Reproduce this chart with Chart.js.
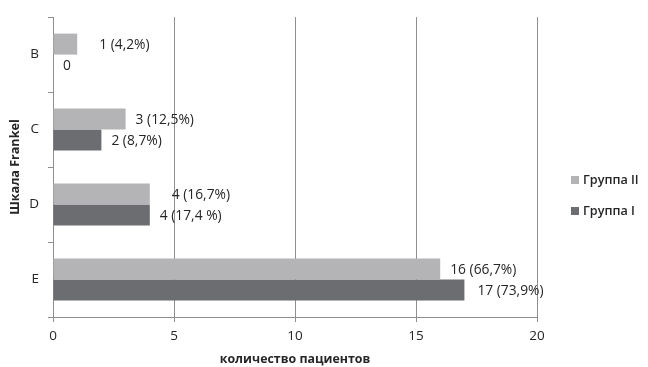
<!DOCTYPE html>
<html>
<head>
<meta charset="utf-8">
<script src="https://cdn.jsdelivr.net/npm/chart.js@4/dist/chart.umd.min.js"></script>
<style>
  html, body { margin: 0; padding: 0; background: #fff; }
  #wrap { width: 648px; height: 367px; }
</style>
</head>
<body>
<div id="wrap"><canvas id="c" width="648" height="367"></canvas></div>
<script>
// Frankel grades
const categories = ['B', 'C', 'D', 'E'];
// Patient counts per grade
const groupII = [1, 3, 4, 16];
const groupI = [0, 2, 4, 17];
// Share of each group, as printed next to the bars
const groupIIPct = ['4,2%', '12,5%', '16,7%', '66,7%'];
const groupIPct = ['', '8,7%', '17,4 %', '73,9%'];
// Axis ticks
const xTicks = [0, 5, 10, 15, 20];

const FONT = '"Open Sans", "DejaVu Sans", sans-serif';
const TEXT = '#262626';
const GRID = '#8e8e8e';

const makeLabel = (v, p) => p ? `${v} (${p})` : `${v}`;

// Value labels at the end of each bar; nudge = extra gap in px per label
const barLabels = {
  id: 'barLabels',
  afterDatasetsDraw(chart, args, opts) {
    const ctx = chart.ctx;
    ctx.save();
    ctx.font = `13.8px ${FONT}`;
    ctx.fillStyle = TEXT;
    ctx.textBaseline = 'middle';
    ctx.textAlign = 'left';
    chart.data.datasets.forEach((ds, di) => {
      const meta = chart.getDatasetMeta(di);
      meta.data.forEach((bar, i) => {
        const txt = makeLabel(ds.data[i], ds.pct[i]);
        const extra = (opts.nudge[di] || [])[i] || 0;
        ctx.fillText(txt, bar.x + 10 + extra, bar.y + 1);
      });
    });
    ctx.restore();
  }
};

// Legend on the right side
const sideLegend = {
  id: 'sideLegend',
  afterDraw(chart, args, opts) {
    const ctx = chart.ctx;
    ctx.save();
    ctx.font = `600 12.6px ${FONT}`;
    ctx.textBaseline = 'middle';
    chart.data.datasets.forEach((ds, di) => {
      const y = opts.y + di * opts.step;
      ctx.fillStyle = ds.backgroundColor;
      ctx.fillRect(opts.x, y - 4, 8, 8);
      ctx.fillStyle = TEXT;
      ctx.fillText(ds.label, opts.x + 12, y);
    });
    ctx.restore();
  }
};

new Chart(document.getElementById('c'), {
  type: 'bar',
  data: {
    labels: categories,
    datasets: [
      { label: 'Группа II', data: groupII, pct: groupIIPct, backgroundColor: '#b4b4b6' },
      { label: 'Группа I', data: groupI, pct: groupIPct, backgroundColor: '#6c6d70' }
    ]
  },
  plugins: [barLabels, sideLegend],
  options: {
    indexAxis: 'y',
    responsive: false,
    animation: false,
    devicePixelRatio: 1,
    layout: { padding: { top: 15, right: 111, left: 0, bottom: 0 } },
    datasets: { bar: { categoryPercentage: 0.56, barPercentage: 1.0, borderWidth: 0 } },
    plugins: {
      legend: { display: false },
      tooltip: { enabled: false },
      barLabels: { nudge: [[12, 0, 12, 0], [0, 0, 0, 3]] },
      sideLegend: { x: 571, y: 180, step: 31 }
    },
    scales: {
      x: {
        min: 0, max: 20,
        afterBuildTicks(scale) { scale.ticks = xTicks.map(v => ({ value: v })); },
        afterFit(scale) { scale.height = 50; },
        grid: { color: GRID, lineWidth: 1, tickLength: 5, drawTicks: true },
        border: { color: GRID, width: 1 },
        ticks: { color: TEXT, font: { family: FONT, size: 13.5 }, padding: 6 },
        title: {
          display: true, text: 'количество пациентов', color: TEXT,
          font: { family: FONT, size: 12.4, weight: 'bold' }, padding: { top: 0, bottom: 0 }
        }
      },
      y: {
        afterFit(scale) { scale.width = 53; },
        grid: { drawOnChartArea: false, drawTicks: true, tickLength: 5, color: GRID, offset: true },
        border: { color: GRID, width: 1 },
        ticks: { color: TEXT, font: { family: FONT, size: 13.5 }, padding: 9 },
        title: {
          display: true, text: 'Шкала Frankel', color: TEXT,
          font: { family: FONT, size: 12.6, weight: 'bold' }, padding: { top: 8, bottom: 0 }
        }
      }
    }
  }
});
</script>
</body>
</html>
